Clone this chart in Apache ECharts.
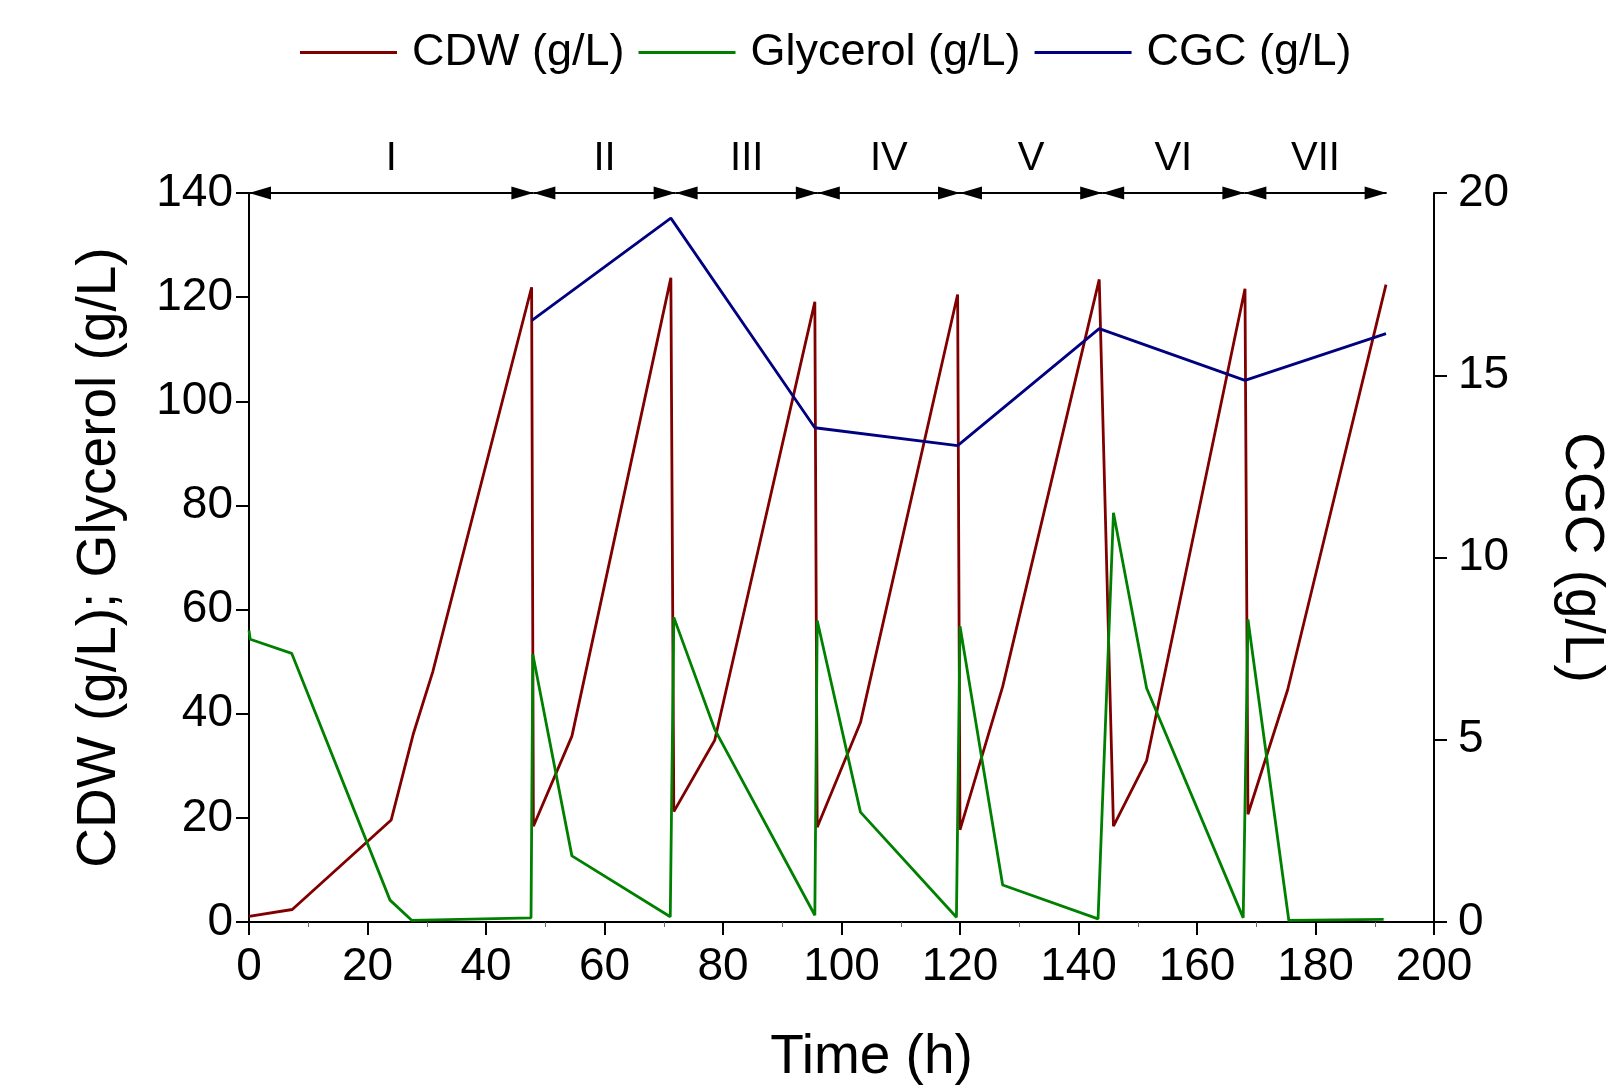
<!DOCTYPE html>
<html><head><meta charset="utf-8">
<script src="https://cdn.jsdelivr.net/npm/echarts@6/dist/echarts.min.js"></script>
<style>html,body{margin:0;padding:0;background:#fff}#c{width:1621px;height:1090px}</style>
</head><body><div id="c"></div>
<script>
// ---- data ----
const cdwTime   = [0, 7.3, 24, 27.7, 31, 47.7, 48, 54.5, 71.2, 71.7, 78.6, 95.5, 95.9, 103.2, 119.6, 120, 127.2, 143.5, 145.9, 151.5, 168.1, 168.6, 175.3, 191.9];
const cdwValues = [1.1, 2.4, 19.6, 36, 48, 121.9, 18.4, 35.7, 123.7, 21.2, 34.9, 119.1, 18.2, 38.3, 120.5, 17.7, 45.2, 123.4, 18.4, 31.0, 121.6, 20.7, 44.6, 122.4];

const glyTime   = [0, 0.2, 7.2, 23.8, 27.5, 47.6, 47.9, 54.5, 71.1, 71.7, 78.6, 95.5, 95.9, 103.2, 119.4, 120, 127.2, 143.3, 145.9, 151.5, 167.8, 168.6, 175.5, 191.5];
const glyValues = [56, 54.3, 51.6, 4.2, 0.3, 0.8, 51.4, 12.7, 1.0, 58.5, 37, 1.3, 57.9, 21.1, 0.9, 56.8, 7.1, 0.6, 78.6, 44.9, 0.8, 58.1, 0.3, 0.5];

const cgcTime   = [47.7, 71.2, 95.5, 119.6, 143.5, 168.1, 191.9];
const cgcValues = [16.5, 19.31, 13.56, 13.07, 16.28, 14.86, 16.14];

const phaseBounds = [0, 48, 72, 96, 120, 144, 168, 192];
const phaseLabels = ['I', 'II', 'III', 'IV', 'V', 'VI', 'VII'];

const xTicks = { min: 0, max: 200, interval: 20 };
const yLeftTicks = { min: 0, max: 140, interval: 20 };
const yRightTicks = { min: 0, max: 20, interval: 5 };

const seriesNames = ['CDW (g/L)', 'Glycerol (g/L)', 'CGC (g/L)'];
// ------------------------------------

const FONT = 'Liberation Sans, Arial, sans-serif';
const pair = (ts, vs) => ts.map((t, i) => [t, vs[i]]);

const phaseData = phaseLabels.map((lab, i) => [
  { coord: [phaseBounds[i], yLeftTicks.max], name: lab },
  { coord: [phaseBounds[i + 1], yLeftTicks.max] }
]);

const axisCommon = {
  axisLine: { show: true, lineStyle: { color: '#000', width: 2 } },
  axisTick: { show: true, length: 13, lineStyle: { color: '#000', width: 2 } },
  splitLine: { show: false },
  axisLabel: { color: '#000', fontSize: 46, fontFamily: FONT },
  nameTextStyle: { color: '#000', fontSize: 55, fontFamily: FONT }
};

const chart = echarts.init(document.getElementById('c'), null, { renderer: 'canvas' });
chart.setOption({
  animation: false,
  backgroundColor: '#fff',
  textStyle: { fontFamily: FONT },
  legend: {
    top: 25, left: 295,
    itemWidth: 97, itemHeight: 3, itemGap: 14,
    icon: 'rect',
    textStyle: { color: '#000', fontSize: 45, fontFamily: FONT, padding: [0, 0, 0, 10] },
    data: seriesNames
  },
  grid: { left: 249, right: 187, top: 193, bottom: 167, containLabel: false },
  xAxis: Object.assign({}, axisCommon, {
    type: 'value', min: xTicks.min, max: xTicks.max, interval: xTicks.interval,
    name: 'Time (h)', nameLocation: 'middle', nameGap: 108,
    nameTextStyle: Object.assign({}, axisCommon.nameTextStyle, { padding: [0, 0, 0, 60] }),
    axisLabel: Object.assign({}, axisCommon.axisLabel, { margin: 22 }),
    minorTick: { show: true, splitNumber: 2, length: 5, lineStyle: { color: '#666', width: 1 } }
  }),
  yAxis: [
    Object.assign({}, axisCommon, {
      type: 'value', position: 'left', min: yLeftTicks.min, max: yLeftTicks.max, interval: yLeftTicks.interval,
      name: 'CDW (g/L); Glycerol (g/L)', nameLocation: 'middle', nameGap: 122, nameRotate: 90,
      axisLabel: Object.assign({}, axisCommon.axisLabel, { margin: 16 })
    }),
    Object.assign({}, axisCommon, {
      type: 'value', position: 'right', min: yRightTicks.min, max: yRightTicks.max, interval: yRightTicks.interval,
      name: 'CGC (g/L)', nameLocation: 'middle', nameGap: 120, nameRotate: -90,
      axisLabel: Object.assign({}, axisCommon.axisLabel, { margin: 24 })
    })
  ],
  series: [
    {
      name: seriesNames[0], type: 'line', yAxisIndex: 0, data: pair(cdwTime, cdwValues),
      showSymbol: false, symbol: 'none', lineStyle: { color: '#800000', width: 2.8 }, itemStyle: { color: '#800000' },
      markLine: {
        silent: true, symbol: ['triangle', 'triangle'], symbolSize: [13, 22], symbolOffset: [[0, 11], [0, 11]],
        lineStyle: { color: '#000', width: 2, type: 'solid' },
        itemStyle: { color: '#000' },
        label: { show: true, position: 'insideMiddleTop', distance: 14, formatter: p => p.name, color: '#000', fontSize: 40, fontFamily: FONT },
        emphasis: { disabled: true },
        data: phaseData
      }
    },
    {
      name: seriesNames[1], type: 'line', yAxisIndex: 0, data: pair(glyTime, glyValues),
      showSymbol: false, symbol: 'none', lineStyle: { color: '#008000', width: 2.8 }, itemStyle: { color: '#008000' }
    },
    {
      name: seriesNames[2], type: 'line', yAxisIndex: 1, data: pair(cgcTime, cgcValues),
      showSymbol: false, symbol: 'none', lineStyle: { color: '#000080', width: 2.8 }, itemStyle: { color: '#000080' }
    }
  ]
});
</script>
</body></html>
